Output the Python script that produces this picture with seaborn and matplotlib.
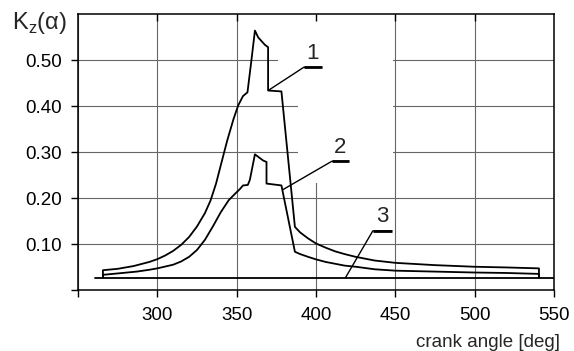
import matplotlib
matplotlib.use('Agg')

import matplotlib.pyplot as plt
from matplotlib.patches import Polygon
import seaborn as sns

# ---------------- DATA ----------------
angle_1 = [265.7, 265.7, 275, 285, 295, 300, 305, 310, 315, 320, 325, 330,
           333.5, 337, 340, 344, 348, 351, 354, 356.8, 359.3, 361.5, 363.6,
           367.8, 369.8, 369.8, 378.2, 386.7, 390, 395, 400, 406, 412, 418,
           425, 437, 450, 475, 500, 520, 540.5, 540.5]
kz_1 = [0.028, 0.044, 0.047, 0.053, 0.062, 0.068, 0.076, 0.086, 0.099, 0.116,
        0.139, 0.168, 0.195, 0.232, 0.272, 0.325, 0.372, 0.402, 0.422, 0.430,
        0.500, 0.564, 0.549, 0.533, 0.528, 0.434, 0.432, 0.138, 0.126, 0.113,
        0.102, 0.093, 0.085, 0.079, 0.073, 0.065, 0.060, 0.055, 0.0515, 0.050,
        0.048, 0.028]

angle_2 = [265.7, 265.7, 275, 287, 295, 300, 305, 310, 315, 320, 325, 330,
           335, 340, 345, 349, 352, 354, 357, 358.3, 361.5, 363.6, 366.7,
           368.8, 368.8, 378.2, 386.7, 390, 395, 400, 406, 412, 418, 425, 437,
           450, 475, 500, 520, 540.5, 540.5]
kz_2 = [0.028, 0.034, 0.037, 0.041, 0.045, 0.048, 0.052, 0.056, 0.063, 0.073,
        0.088, 0.110, 0.139, 0.170, 0.196, 0.210, 0.220, 0.228, 0.229, 0.240,
        0.2955, 0.290, 0.282, 0.279, 0.232, 0.228, 0.084, 0.079, 0.073, 0.0675,
        0.062, 0.058, 0.054, 0.0515, 0.046, 0.043, 0.041, 0.039, 0.038, 0.036,
        0.028]

angle_3 = [260.7, 550]
kz_3 = [0.028, 0.028]

x_ticks = [250, 300, 350, 400, 450, 500, 550]
x_tick_labels = ['', '300', '350', '400', '450', '500', '550']
y_ticks = [0.0, 0.1, 0.2, 0.3, 0.4, 0.5]
y_tick_labels = ['', '0.10', '0.20', '0.30', '0.40', '0.50']

# curve labels: text, anchor on curve, underline start, underline end
curve_labels = [
    ('1', (370.3, 0.435), (392.3, 0.4844), (403.6, 0.4844)),
    ('2', (379.0, 0.2186), (409.9, 0.2803), (420.6, 0.2803)),
    ('3', (418.6, 0.028), (435.8, 0.1294), (447.7, 0.1294)),
]
# ----------------------------------------------------------------

sns.set_theme(style="ticks")
plt.rcParams['font.family'] = ['Liberation Sans', 'DejaVu Sans']
plt.rcParams['mathtext.fontset'] = 'custom'
plt.rcParams['mathtext.rm'] = 'Liberation Sans'

fig = plt.figure(figsize=(5.74, 3.51), dpi=100)
ax = fig.add_axes([0.1359, 0.1724, 0.8293, 0.7877])

for xs, ys in [(angle_1, kz_1), (angle_2, kz_2), (angle_3, kz_3)]:
    sns.lineplot(x=xs, y=ys, sort=False, estimator=None, color='black',
                 linewidth=1.3, ax=ax, zorder=3)

ax.set_xlim(250, 550)
ax.set_ylim(0, 0.6)
ax.set_xticks(x_ticks)
ax.set_xticklabels(x_tick_labels)
ax.set_yticks(y_ticks)
ax.set_yticklabels(y_tick_labels)
ax.grid(True, color='0.4', linewidth=0.8)
ax.tick_params(axis='both', direction='out', length=4.7, width=1.0,
               colors='black', labelsize=13.5, pad=7)
for sp in ax.spines.values():
    sp.set_visible(True)
    sp.set_linewidth(1.1)
    sp.set_color('black')

# white area behind the labels hides the grid there
mask = Polygon([(376, 0.6), (448.5, 0.6), (448.5, 0.2327), (388.5, 0.2327),
                (388.5, 0.47), (376, 0.47)], closed=True,
               facecolor='white', edgecolor='none', zorder=1)
ax.add_patch(mask)

# inward ticks along the top edge
ax_top = ax.twiny()
ax_top.set_xlim(ax.get_xlim())
ax_top.set_xticks(x_ticks[1:-1])
ax_top.tick_params(axis='x', direction='in', length=4.7, width=1.0,
                   labeltop=False, colors='black')
for sp in ax_top.spines.values():
    sp.set_visible(False)

# curve labels with underline and leader
for txt, anchor, ul0, ul1 in curve_labels:
    ax.plot([anchor[0], ul0[0], ul1[0]], [anchor[1], ul0[1], ul1[1]],
            color='black', linewidth=1.0, zorder=4)
    ax.plot([ul0[0], ul1[0]], [ul0[1], ul1[1]], color='black',
            linewidth=2.0, zorder=4, solid_capstyle='butt')
    ax.text((ul0[0] + ul1[0]) / 2, ul0[1] + 0.008, txt, ha='center',
            va='bottom', fontsize=16, zorder=5)

ax.set_xlabel('')
ax.set_ylabel('')
fig.text(560 / 574, 1 - 347 / 351, 'crank angle [deg]', ha='right',
         va='baseline', fontsize=13.5)
fig.text(12 / 574, 1 - 29 / 351, r'K$_{\mathrm{z}}$(α)', ha='left',
         va='baseline', fontsize=17)

fig.savefig('out.png', dpi=100)
